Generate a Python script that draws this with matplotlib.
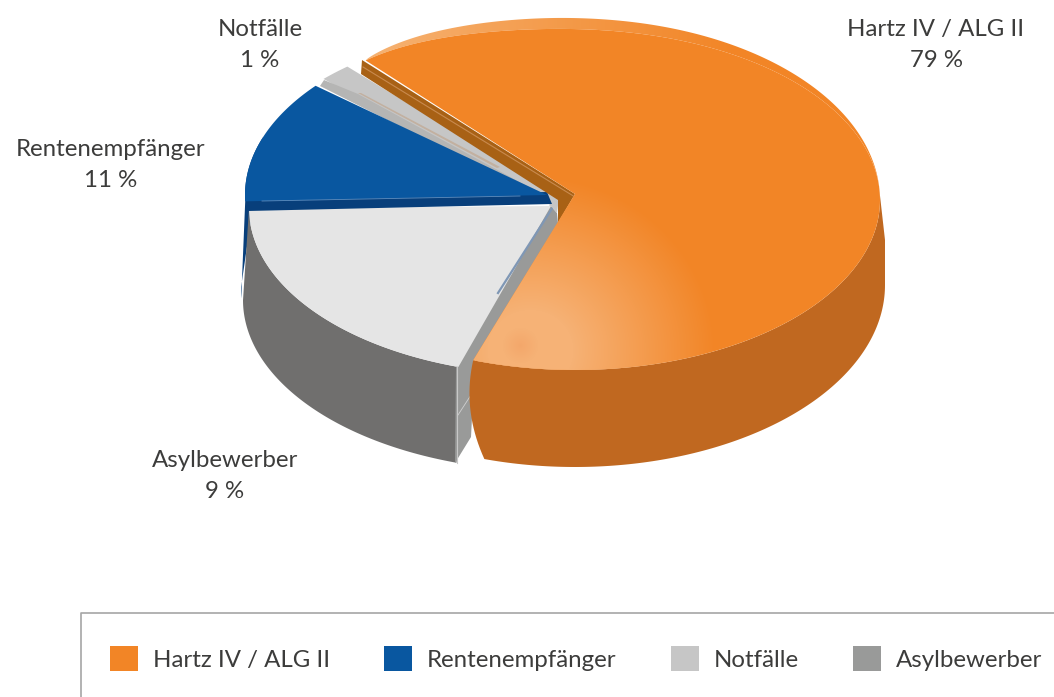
import numpy as np
import matplotlib
matplotlib.use("Agg")
import matplotlib.pyplot as plt
from matplotlib.patches import Polygon, Patch

plt.rcParams['font.family'] = ['Lato', 'DejaVu Sans']

# legend order, walks counter-clockwise round the pie
names = ["Hartz IV / ALG II", "Rentenempfänger", "Notfälle", "Asylbewerber"]
shares = [79, 11, 1, 9]  # printed labels
# the 3D picture is distorted, so the visible part of the circle differs from the labels
drawn_orange = 66.5
drawn_notfaelle = 1.7
drawn_rente = 11.7
drawn_asyl = 20.0

colors = ["#F28526", "#0957A0", "#C6C6C6", "#999A99"]
face_asyl = "#E5E5E5"
side_orange = "#C06820"
side_asyl = "#706F6E"
side_blue = "#083F7B"
cut_orange = "#A86115"
cut_grey = "#999A99"
text_col = "#3C3C3B"


def arc(cx, cy, a, b, p1, p2, n=120):
    # p = degrees clockwise from the top of the ellipse
    p = np.radians(np.linspace(p1, p2, n))
    return np.column_stack([cx + a * np.sin(p), cy - b * np.cos(p)])


def orange_arc(p1, p2, grow=0.07, n=200):
    # top left of the orange slice bulges out of the plain ellipse
    deg = np.linspace(p1, p2, n)
    r = 1 + grow * np.exp(-((deg + 40) / 25) ** 2)
    p = np.radians(deg)
    return np.column_stack([575 + 305 * r * np.sin(p), 200 - 170 * r * np.cos(p)])


fig = plt.figure(figsize=(10.54, 6.97), dpi=100)
ax = fig.add_axes([0, 0, 1, 1])

# slice angles from the drawn shares
p_orange0 = 199.5
p_orange1 = p_orange0 - drawn_orange * 3.6
p_not1 = p_orange1 - drawn_notfaelle * 3.6
p_rente0 = p_not1 - 4
p_rente1 = p_rente0 - drawn_rente * 3.6
p_asyl0 = p_rente1 + 2
p_asyl1 = p_asyl0 - drawn_asyl * 3.6


def poly(pts, col, z, **kw):
    pat = Polygon(pts, closed=True, facecolor=col, edgecolor="none", linewidth=0, zorder=z, **kw)
    ax.add_patch(pat)
    return pat


# blue sliver on the far left
blue_top = arc(547, 195, 302, 170, p_rente1 + 22, p_rente1)
blue_bot = arc(544, 292, 303, 170, p_rente1, p_rente1 + 22, 40)
poly(np.vstack([blue_top, blue_bot[:8]]), side_blue, 1)

# Asylbewerber slice
asyl_top = arc(551, 208, 302, 167, p_asyl0, p_asyl1)
asyl_bot = arc(551, 300, 308, 171, p_asyl1, p_asyl0)
poly(np.vstack([asyl_top, asyl_bot]), side_asyl, 2)
poly([(550, 205), (557, 213), (558, 223), (475, 360), (471, 437), (455, 463), (456, 367)],
     cut_grey, 3)
ax.plot([458, 471], [415, 395], color="#D0D0D0", lw=0.6, zorder=3.1)
ax.plot([457, 457], [367, 463], color="#C8C8C8", lw=0.8, zorder=3.1)
poly(np.vstack([[(551, 206)], asyl_top]), face_asyl, 4)
ax.plot([553, 498], [207, 293], color="#7F97B5", lw=1.6, zorder=4.1)

# Notfälle slice
not_top = arc(543, 197, 305, 170, p_orange1, p_not1, 20)
poly(np.vstack([not_top, [(549, 204), (557, 213), (559, 198), (555, 193)]]), colors[2], 5)
poly([(324, 80), (358, 94), (549, 198), (548, 201), (320, 86)], "#B5B5B4", 5.1)
poly([(358, 93), (361, 93), (500, 167), (497, 168)], "#C2B0A0", 5.2)

# Rentenempfänger slice
rente_top = arc(547, 195, 302, 170, p_rente0, p_rente1)
poly([(246, 198), (547, 192), (552, 204), (248, 211)], side_blue, 7)
poly(np.vstack([[(547, 195)], rente_top]), colors[1], 7.1)
ax.plot([262, 520], [201, 196], color="#5E8DBE", lw=0.6, zorder=7.2)

# orange slice
poly([(362, 60), (575, 194), (558, 223), (558, 200), (361, 74)], cut_orange, 8)
ax.plot([363, 575], [67, 197], color="#C98A4E", lw=0.8, zorder=8.1)

side_top = arc(575, 200, 305, 170, 88, p_orange0)
side_bot = arc(575, 285, 310, 182, 197, 90)
t = np.linspace(0, 1, 20)[:, None]
corner = (1 - t) ** 2 * side_top[-1] + 2 * t * (1 - t) * np.array([462, 410]) + t ** 2 * side_bot[0]
poly(np.vstack([side_top, corner, side_bot, [(885, 240)]]), side_orange, 9)

yy, xx = np.mgrid[0:697, 0:1054]

# lighter rim along the top, same colour as the face by the time it reaches the right side
rim_deg = np.linspace(p_orange1, 90, 300)
rim_in = orange_arc(p_orange1, 90, n=300)
rim_off = np.where(rim_deg < 0,
                   11 * np.sin(np.pi / 2 * np.clip((rim_deg - p_orange1) / -p_orange1, 0, 1)) ** 0.6,
                   11 * np.cos(np.radians(rim_deg)))
rim_out = rim_in - np.column_stack([0 * rim_deg, rim_off])
rim = poly(np.vstack([rim_out, rim_in[::-1]]), "none", 10)
fade = np.clip((xx - 365) / 370.0, 0, 1)[..., None]
rim_img = (1 - fade) * np.array([0.965, 0.70, 0.45]) + fade * np.array(matplotlib.colors.to_rgb(colors[0]))
im = ax.imshow(rim_img, extent=(0, 1054, 697, 0), aspect="auto", zorder=10)
im.set_clip_path(rim)

face = poly(np.vstack([[(575, 194)], orange_arc(p_orange1, p_orange0)]), colors[0], 11)

# radial glow near the front of the orange face
d = np.hypot((xx - 530) / 185.0, (yy - 350) / 175.0)
glow = np.zeros((697, 1054, 4))
glow[..., :3] = matplotlib.colors.to_rgb("#F6B276")
glow[..., 3] = np.clip(1.3 * (1 - d), 0, 1)
im2 = ax.imshow(glow, extent=(0, 1054, 697, 0), aspect="auto", zorder=12)
im2.set_clip_path(face)

spot = np.zeros((697, 1054, 4))
spot[..., :3] = matplotlib.colors.to_rgb("#F0975A")
spot[..., 3] = 0.4 * np.clip(1 - np.hypot(xx - 520, yy - 345) / 18.0, 0, 1)
im3 = ax.imshow(spot, extent=(0, 1054, 697, 0), aspect="auto", zorder=12.5)
im3.set_clip_path(face)

ax.set_xlim(0, 1054)
ax.set_ylim(697, 0)
ax.axis("off")

# labels
label_xy = [(936, 45), (111, 165), (260, 45), (225, 476)]
for name, share, (x, y) in zip(names, shares, label_xy):
    ax.text(x, y, f"{name}\n{share} %", ha="center", va="center", fontsize=17.3,
            color=text_col, linespacing=1.6, zorder=20)

# legend box runs off the right and bottom edge of the picture
ax.plot([81, 81, 1054], [697, 613, 613], color="#A6A6A6", lw=1.2, zorder=19, clip_on=False)
handles = [Patch(facecolor=c, edgecolor="none") for c in colors]
leg = ax.legend(handles, names, ncol=4, loc="upper left", bbox_to_anchor=(110, 646),
                bbox_transform=ax.transData, borderaxespad=0, fontsize=17.3,
                frameon=False, labelcolor=text_col, handlelength=1.17, handleheight=1.25,
                handletextpad=0.62, columnspacing=2.25, borderpad=0)
leg.set_zorder(20)

fig.savefig("out.png", dpi=100)
